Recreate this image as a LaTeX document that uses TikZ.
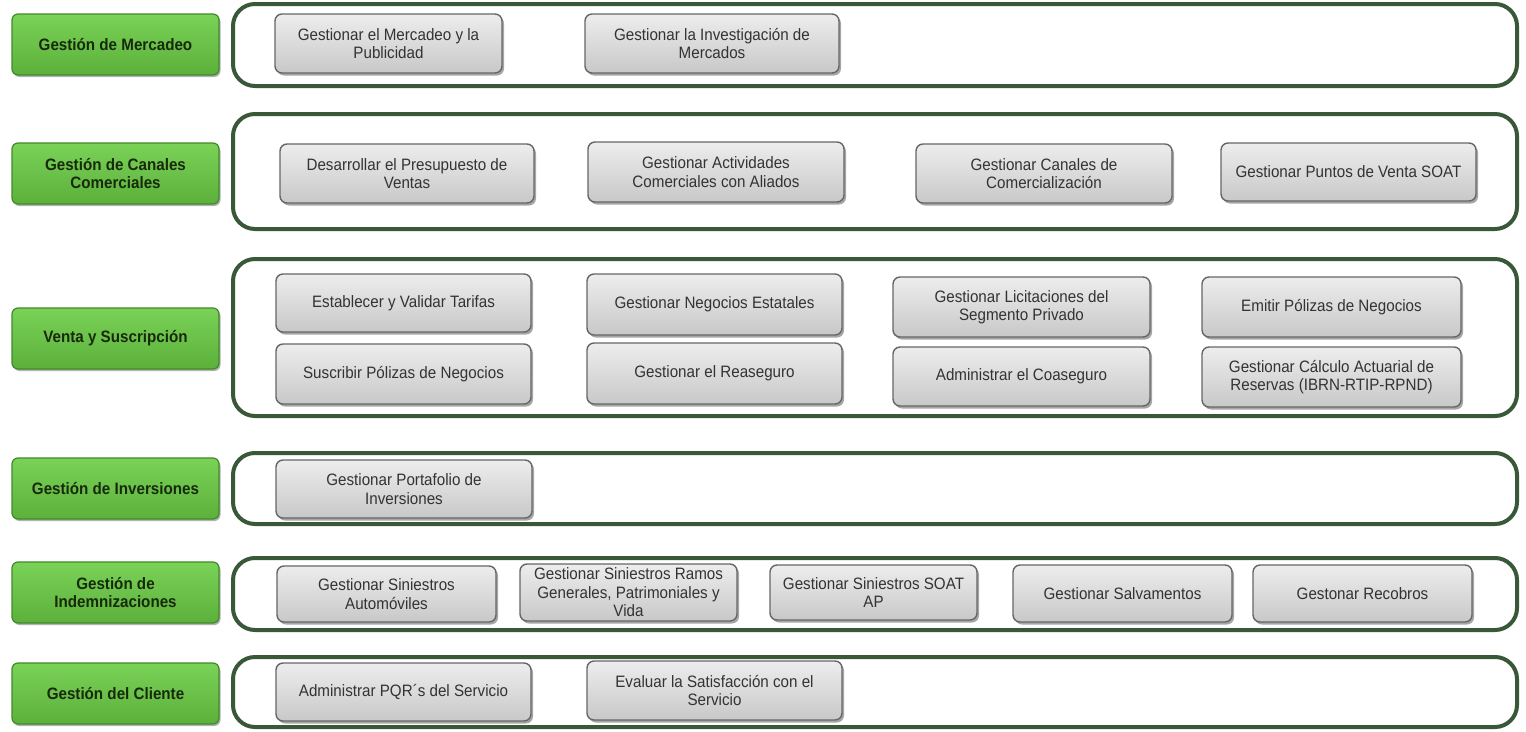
\documentclass[tikz,border=0pt]{standalone}
\usepackage{fontspec}
\setmainfont{Liberation Sans}[FakeStretch=0.92]
\usetikzlibrary{shadows}
\definecolor{outlc}{HTML}{385838}
\definecolor{grtop}{HTML}{7AD257}
\definecolor{grbot}{HTML}{5CB03B}
\definecolor{grdraw}{HTML}{3F8A2A}
\definecolor{grtext}{HTML}{172A0C}
\definecolor{gytop}{HTML}{EDEDED}
\definecolor{gybot}{HTML}{C8C8C8}
\definecolor{gydraw}{HTML}{666666}
\definecolor{gytext}{HTML}{333333}
\tikzset{
  outl/.style={draw=outlc, line width=4pt, rounded corners=22pt, fill=white},
  lab/.style={draw=grdraw, line width=1.2pt, rounded corners=6pt, top color=grtop, bottom color=grbot,
     drop shadow={shadow xshift=1.5pt, shadow yshift=-2pt, fill=black, opacity=0.3},
     text=grtext, font=\fontsize{16.5}{18.5}\selectfont\bfseries, align=center, inner sep=1pt},
  gbox/.style={draw=gydraw, line width=1.4pt, rounded corners=7pt, top color=gytop, bottom color=gybot,
     drop shadow={shadow xshift=2pt, shadow yshift=-2.5pt, fill=black, opacity=0.35},
     text=gytext, font=\fontsize{16.5}{18.5}\selectfont, align=center, inner sep=1pt}
}
% #1 style, #2 name, #3 x1, #4 y1, #5 x2, #6 y2, #7 text
\newcommand\boxat[7]{%
  \pgfmathsetmacro\bw{#5-#3}\pgfmathsetmacro\bh{#6-#4}%
  \node[#1, minimum width=\bw pt, minimum height=\bh pt] (#2) at ({(#3+#5)/2},{(#4+#6)/2}) {#7};}
\begin{document}
\begin{tikzpicture}[x=1pt,y=-1pt]
\useasboundingbox (0,0) rectangle (1526,731);
% row outlines
\boxat{outl}{r1}{233}{4}{1517}{86}{}
\boxat{outl}{r2}{233}{114}{1517}{229}{}
\boxat{outl}{r3}{233}{259}{1517}{416}{}
\boxat{outl}{r4}{233}{453}{1517}{524}{}
\boxat{outl}{r5}{233}{558}{1517}{630}{}
\boxat{outl}{r6}{233}{657}{1517}{727}{}
% green labels
\boxat{lab}{g1}{12}{14}{219}{75}{Gestión de Mercadeo}
\boxat{lab}{g2}{12}{143}{219}{204}{Gestión de Canales\\Comerciales}
\boxat{lab}{g3}{12}{308}{219}{369}{Venta y Suscripción}
\boxat{lab}{g4}{12}{458}{219}{519}{Gestión de Inversiones}
\boxat{lab}{g5}{12}{562}{219}{623}{Gestión de\\Indemnizaciones}
\boxat{lab}{g6}{12}{663}{219}{724}{Gestión del Cliente}
% row 1
\boxat{gbox}{a1}{275}{14}{502}{73}{Gestionar el Mercadeo y la\\Publicidad}
\boxat{gbox}{a2}{585}{14}{839}{73}{Gestionar la Investigación de\\Mercados}
% row 2
\boxat{gbox}{b1}{280}{144}{534}{203}{Desarrollar el Presupuesto de\\Ventas}
\boxat{gbox}{b2}{588}{142}{844}{202}{Gestionar Actividades\\Comerciales con Aliados}
\boxat{gbox}{b3}{916}{144}{1172}{203}{Gestionar Canales de\\Comercialización}
\boxat{gbox}{b4}{1221}{143}{1476}{201}{Gestionar Puntos de Venta SOAT}
% row 3
\boxat{gbox}{c1}{276}{274}{531}{332}{Establecer y Validar Tarifas}
\boxat{gbox}{c2}{587}{274}{842}{335}{Gestionar Negocios Estatales}
\boxat{gbox}{c3}{893}{277}{1150}{337}{Gestionar Licitaciones del\\Segmento Privado}
\boxat{gbox}{c4}{1202}{277}{1461}{337}{Emitir Pólizas de Negocios}
\boxat{gbox}{d1}{276}{344}{531}{404}{Suscribir Pólizas de Negocios}
\boxat{gbox}{d2}{587}{343}{842}{404}{Gestionar el Reaseguro}
\boxat{gbox}{d3}{893}{347}{1150}{406}{Administrar el Coaseguro}
\boxat{gbox}{d4}{1202}{347}{1461}{407}{Gestionar Cálculo Actuarial de\\Reservas (IBRN-RTIP-RPND)}
% row 4
\boxat{gbox}{e1}{276}{460}{532}{518}{Gestionar Portafolio de\\Inversiones}
% row 5
\boxat{gbox}{f1}{277}{566}{496}{622}{Gestionar Siniestros\\Automóviles}
\boxat{gbox}{f2}{520}{564}{737}{621}{Gestionar Siniestros Ramos\\Generales, Patrimoniales y\\Vida}
\boxat{gbox}{f3}{770}{565}{977}{620}{Gestionar Siniestros SOAT\\AP}
\boxat{gbox}{f4}{1013}{565}{1232}{622}{Gestionar Salvamentos}
\boxat{gbox}{f5}{1253}{565}{1472}{622}{Gestonar Recobros}
% row 6
\boxat{gbox}{h1}{276}{663}{531}{721}{Administrar PQR´s del Servicio}
\boxat{gbox}{h2}{587}{661}{842}{720}{Evaluar la Satisfacción con el\\Servicio}
\end{tikzpicture}
\end{document}
